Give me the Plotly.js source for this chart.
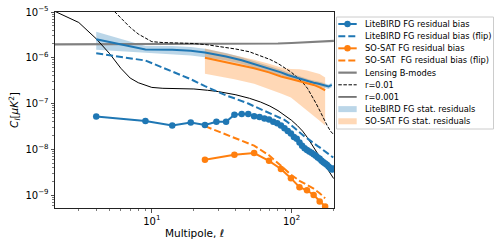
<!DOCTYPE html>
<html>
<head>
<meta charset="utf-8">
<script src="https://cdn.plot.ly/plotly-3.0.1.min.js"></script>
<style>html,body{margin:0;padding:0;background:#fff;}#chart{width:500px;height:250px;}</style>
</head>
<body>
<div id="chart"></div>
<script>
// ---------------- data ----------------
const ellLB = [4,9,14,19,24,29,34,39,44,49,54,59,64,69,74,79,84,89,94,99,104,109,114,119,124,129,134,139,144,149,154,159,164,169,174,179,184,189,194,199];
const lbBias = [5.2e-8,4.15e-8,3.3e-8,3.85e-8,3.4e-8,4.0e-8,4.0e-8,5.7e-8,5.9e-8,5.9e-8,5.3e-8,5.1e-8,4.7e-8,4.5e-8,4.0e-8,3.7e-8,3.3e-8,2.9e-8,2.5e-8,2.2e-8,1.85e-8,1.7e-8,1.4e-8,1.2e-8,1.05e-8,9.6e-9,9.0e-9,8.4e-9,7.8e-9,7.2e-9,6.6e-9,6.2e-9,5.6e-9,5.2e-9,4.9e-9,4.6e-9,4.2e-9,3.9e-9,3.6e-9,3.8e-9];
const lbFlip = [1.25e-6,8.7e-7,5.0e-7,3.4e-7,2.4e-7,1.85e-7,1.5e-7,1.3e-7,1.15e-7,1.0e-7,8.7e-8,7.7e-8,6.9e-8,6.2e-8,5.7e-8,5.2e-8,4.8e-8,4.4e-8,3.9e-8,3.4e-8,3.0e-8,2.6e-8,2.3e-8,2.1e-8,1.9e-8,1.75e-8,1.6e-8,1.45e-8,1.32e-8,1.25e-8,1.17e-8,1.1e-8,1.02e-8,9.5e-9,8.9e-9,8.4e-9,7.9e-9,7.5e-9,7.0e-9,6.6e-9];

const ellLBband = [4,9,14,19,24,34,44,54,64,74,84,94,104,114,124,134,144,154,164,174,184,194];
const lbCenter = [2.55e-6,1.52e-6,1.5e-6,1.42e-6,1.3e-6,1.07e-6,8.8e-7,7.3e-7,6.2e-7,5.4e-7,4.8e-7,4.2e-7,3.8e-7,3.5e-7,3.2e-7,3.0e-7,2.85e-7,2.75e-7,2.6e-7,2.45e-7,2.35e-7,2.55e-7];
const lbLo = [1.5e-6,1.27e-6,1.2e-6,1.12e-6,1.03e-6,8.7e-7,7.3e-7,6.1e-7,5.2e-7,4.6e-7,4.1e-7,3.6e-7,3.3e-7,3.05e-7,2.8e-7,2.63e-7,2.5e-7,2.42e-7,2.3e-7,2.17e-7,2.08e-7,2.27e-7];
const lbHi = [3.7e-6,1.8e-6,1.8e-6,1.72e-6,1.57e-6,1.27e-6,1.03e-6,8.5e-7,7.2e-7,6.2e-7,5.5e-7,4.8e-7,4.3e-7,3.95e-7,3.6e-7,3.37e-7,3.2e-7,3.08e-7,2.9e-7,2.73e-7,2.62e-7,2.83e-7];

const ellSO = [24,39,54,69,84,99,114,129,144,159,174];
const soBias = [5.9e-9,7.6e-9,8.3e-9,5.6e-9,3.7e-9,2.34e-9,1.48e-9,1.27e-9,1.0e-9,7.2e-10,5.6e-10];
const soFlip = [3.2e-8,1.8e-8,1.2e-8,7.4e-9,4.4e-9,2.8e-9,2.05e-9,1.65e-9,1.38e-9,1.1e-9,8.5e-10];
const soCenter = [1.0e-6,7.3e-7,5.9e-7,4.8e-7,3.9e-7,3.45e-7,3.1e-7,2.8e-7,2.55e-7,2.25e-7,1.95e-7];
const soLo = [4.5e-7,3.4e-7,2.7e-7,2.1e-7,1.65e-7,1.35e-7,9.5e-8,7.3e-8,5.5e-8,4.2e-8,3.3e-8];
const soHi = [1.6e-6,1.15e-6,9.1e-7,7.4e-7,6.1e-7,5.7e-7,5.6e-7,5.3e-7,4.9e-7,4.4e-7,3.7e-7];

const ellLens = [2,10,20,50,80,100,130,160,201];
const clLens = [1.96e-6,1.97e-6,1.98e-6,2.0e-6,2.05e-6,2.1e-6,2.17e-6,2.25e-6,2.35e-6];

const ellR = [2,3,4,5,6,7,8,9,10,12,15,20,25,30,40,50,60,70,80,90,100,110,120,130,140,150,160,170,180,190,200];
const clR001 = [1.05e-5,5.9e-6,2.6e-6,1.22e-6,5.9e-7,3.6e-7,2.85e-7,2.5e-7,2.25e-7,2.15e-7,2.12e-7,2.08e-7,1.95e-7,1.82e-7,1.55e-7,1.3e-7,1.08e-7,8.8e-8,7.0e-8,5.5e-8,4.3e-8,3.3e-8,2.5e-8,1.8e-8,1.25e-8,9.0e-9,6.6e-9,4.9e-9,3.7e-9,2.9e-9,2.3e-9];
const clR01 = [1.0e-4,5.9e-5,2.6e-5,1.3e-5,7.6e-6,4.6e-6,3.3e-6,2.65e-6,2.25e-6,2.15e-6,2.1e-6,2.05e-6,1.92e-6,1.78e-6,1.55e-6,1.35e-6,1.12e-6,9.2e-7,7.5e-7,6.0e-7,4.8e-7,3.7e-7,2.9e-7,2.15e-7,1.5e-7,1.0e-7,6.8e-8,4.6e-8,3.3e-8,2.5e-8,2.1e-8];

const yTickVals = [1e-9,1e-8,1e-7,1e-6,1e-5];
const yTickText = ['10<sup>−9</sup>','10<sup>−8</sup>','10<sup>−7</sup>','10<sup>−6</sup>','10<sup>−5</sup>'];
const xTickVals = [10,100];
const xTickText = ['10<sup>1</sup>','10<sup>2</sup>'];
const xMinor = [2,3,4,5,6,7,8,9,20,30,40,50,60,70,80,90,200];
const yMinor = [6e-10,7e-10,8e-10,9e-10,2e-9,3e-9,4e-9,5e-9,6e-9,7e-9,8e-9,9e-9,2e-8,3e-8,4e-8,5e-8,6e-8,7e-8,8e-8,9e-8,2e-7,3e-7,4e-7,5e-7,6e-7,7e-7,8e-7,9e-7,2e-6,3e-6,4e-6,5e-6,6e-6,7e-6,8e-6,9e-6];

const legendLabels = ['LiteBIRD FG residual bias','LiteBIRD FG residual bias (flip)','SO-SAT FG residual bias','SO-SAT\u00a0\u00a0FG residual bias (flip)','Lensing B-modes','r=0.01','r=0.001','LiteBIRD FG stat. residuals','SO-SAT FG stat. residuals'];

// ---------------- styles ----------------
const BLUE = '#1f77b4', ORANGE = '#ff7f0e';
const BLUE_FILL = 'rgba(31,119,180,0.3)', ORANGE_FILL = 'rgba(255,127,14,0.3)';
const FONT = 'DejaVu Sans, Liberation Sans, sans-serif';

const traces = [
  {x: ellLBband, y: lbLo, mode:'lines', line:{width:0, color:BLUE_FILL}, showlegend:false, hoverinfo:'skip'},
  {x: ellLBband, y: lbHi, mode:'lines', line:{width:0, color:BLUE_FILL}, fill:'tonexty', fillcolor:BLUE_FILL, showlegend:false, hoverinfo:'skip'},
  {x: ellSO, y: soLo, mode:'lines', line:{width:0, color:ORANGE_FILL}, showlegend:false, hoverinfo:'skip'},
  {x: ellSO, y: soHi, mode:'lines', line:{width:0, color:ORANGE_FILL}, fill:'tonexty', fillcolor:ORANGE_FILL, showlegend:false, hoverinfo:'skip'},
  {x: ellLens, y: clLens, mode:'lines', line:{color:'#808080', width:2.2}, showlegend:false},
  {x: ellR, y: clR01, mode:'lines', line:{color:'#000', width:1, dash:'3.5px,1.6px'}, showlegend:false},
  {x: ellR, y: clR001, mode:'lines', line:{color:'#000', width:1}, showlegend:false},
  {x: ellLBband, y: lbCenter, mode:'lines', line:{color:BLUE, width:2}, showlegend:false},
  {x: ellSO, y: soCenter, mode:'lines', line:{color:ORANGE, width:2}, showlegend:false},
  {x: ellLB, y: lbFlip, mode:'lines', line:{color:BLUE, width:2, dash:'7px,3px'}, showlegend:false},
  {x: ellSO, y: soFlip, mode:'lines', line:{color:ORANGE, width:2, dash:'7px,3px'}, showlegend:false},
  {x: ellLB, y: lbBias, mode:'lines+markers', line:{color:BLUE, width:2}, marker:{color:BLUE, size:6.5}, showlegend:false},
  {x: ellSO, y: soBias, mode:'lines+markers', line:{color:ORANGE, width:2}, marker:{color:ORANGE, size:6.5}, showlegend:false}
];

// ---------------- custom legend (pixel layout -> paper coords) ----------------
const M = {l:55, r:166, t:12, b:42};
const PW = 500 - M.l - M.r, PH = 250 - M.t - M.b;
const px = v => (v - M.l) / PW;
const py = v => (250 - M.b - v) / PH;

const shapes = [];
const annotations = [];
shapes.push({type:'rect', xref:'paper', yref:'paper', x0:px(336.5), x1:px(493.5), y0:py(17), y1:py(129),
  line:{color:'#cccccc', width:1}, fillcolor:'rgba(255,255,255,0.8)', layer:'above'});
const legendStyles = [
  {kind:'line', color:BLUE, width:2, dash:'solid', marker:true},
  {kind:'line', color:BLUE, width:2, dash:'dash'},
  {kind:'line', color:ORANGE, width:2, dash:'solid', marker:true},
  {kind:'line', color:ORANGE, width:2, dash:'dash'},
  {kind:'line', color:'#808080', width:2.2, dash:'solid'},
  {kind:'line', color:'#000', width:1, dash:'dot3'},
  {kind:'line', color:'#000', width:1, dash:'solid'},
  {kind:'patch', color:BLUE_FILL},
  {kind:'patch', color:ORANGE_FILL}
];
const lx0 = 338.3, lx1 = 356.7;
legendLabels.forEach((lab, i) => {
  const cy = 24 + 12.16 * i;
  const st = legendStyles[i];
  if (st.kind === 'line') {
    let d = 'solid';
    if (st.dash === 'dash') d = '7px,3px';
    if (st.dash === 'dot3') d = '3.5px,1.6px';
    shapes.push({type:'line', xref:'paper', yref:'paper', x0:px(lx0), x1:px(lx1), y0:py(cy), y1:py(cy),
      line:{color:st.color, width:st.width, dash:d}, layer:'above'});
    if (st.marker) {
      shapes.push({type:'circle', xref:'paper', yref:'paper', x0:px(347.5-3.2), x1:px(347.5+3.2), y0:py(cy+3.2), y1:py(cy-3.2),
        line:{width:0}, fillcolor:st.color, layer:'above'});
    }
  } else {
    shapes.push({type:'rect', xref:'paper', yref:'paper', x0:px(lx0), x1:px(lx1), y0:py(cy+3), y1:py(cy-3),
      line:{width:0}, fillcolor:st.color, layer:'above'});
  }
  annotations.push({xref:'paper', yref:'paper', x:px(362.5), y:py(cy), xanchor:'left', yanchor:'middle',
    text:lab, showarrow:false, font:{family:FONT, size:8.3, color:'#000'}});
});

const layout = {
  width:500, height:250,
  margin:M,
  paper_bgcolor:'#fff', plot_bgcolor:'#fff',
  font:{family:FONT, size:10, color:'#000'},
  showlegend:false,
  xaxis:{type:'log', range:[0.307, 2.304], showgrid:false, zeroline:false,
    showline:true, linecolor:'#222', linewidth:1, mirror:true,
    ticks:'outside', ticklen:3.5, tickwidth:0.8, tickcolor:'#222',
    tickmode:'array', tickvals:xTickVals, ticktext:xTickText,
    tickfont:{family:FONT, size:10, color:'#000'},
    minor:{tickmode:'array', tickvals:xMinor, ticks:'outside', ticklen:2, tickwidth:0.6, tickcolor:'#222', showgrid:false},
    title:{text:'Multipole, <i>ℓ</i>', font:{family:FONT, size:10.5, color:'#000'}, standoff:4}},
  yaxis:{type:'log', range:[-9.283, -5], showgrid:false, zeroline:false,
    showline:true, linecolor:'#222', linewidth:1, mirror:true,
    ticks:'outside', ticklen:3.5, tickwidth:0.8, tickcolor:'#222',
    tickmode:'array', tickvals:yTickVals, ticktext:yTickText,
    tickfont:{family:FONT, size:10, color:'#000'},
    minor:{tickmode:'array', tickvals:yMinor, ticks:'outside', ticklen:2, tickwidth:0.6, tickcolor:'#222', showgrid:false},
    title:{text:'<i>C<sub>l</sub></i>[<i>μK</i><sup>2</sup>]', font:{family:FONT, size:10.5, color:'#000'}, standoff:4}},
  shapes:shapes,
  annotations:annotations
};

Plotly.newPlot('chart', traces, layout, {staticPlot:true, displayModeBar:false});
</script>
</body>
</html>
